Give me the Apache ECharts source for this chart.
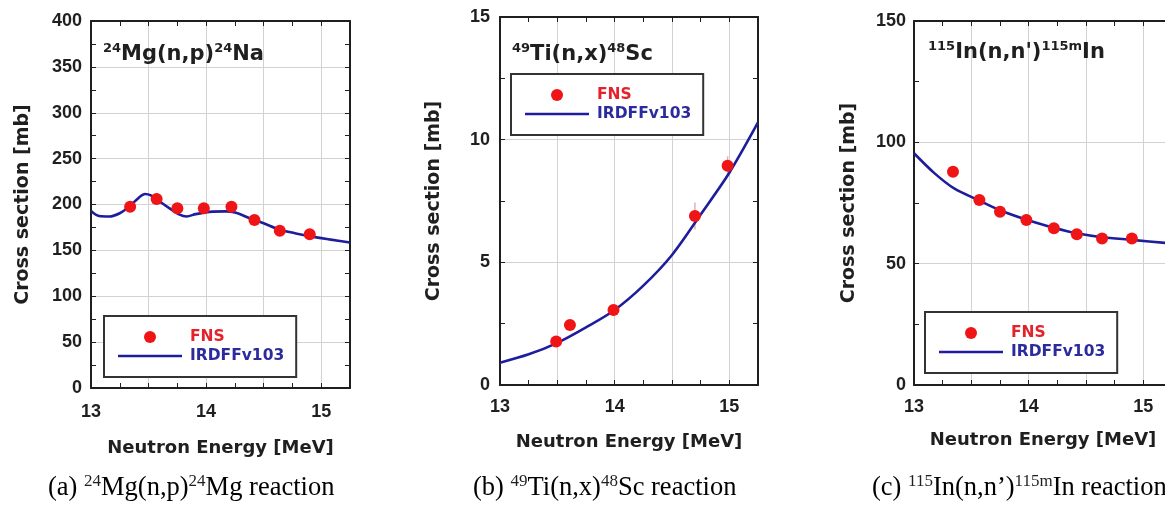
<!DOCTYPE html>
<html>
<head>
<meta charset="utf-8">
<script src="https://cdn.jsdelivr.net/npm/echarts@6/dist/echarts.min.js"></script>
<style>
  html, body { margin: 0; padding: 0; background: #fff; }
  #chart { width: 1165px; height: 514px; }
</style>
</head>
<body>
<div id="chart"></div>
<script>
// 24Mg(n,p)24Na — FNS measurements and IRDFF-v1.03 evaluation
const mgEnergy = [13.34, 13.57, 13.75, 13.98, 14.22, 14.42, 14.64, 14.90];
const mgFns = [197.5, 206, 196, 196, 197.5, 183, 171.5, 167.5];
const mgCurveEnergy = [13.00, 13.07, 13.16, 13.25, 13.33, 13.42, 13.47, 13.52, 13.59, 13.68, 13.77, 13.83,
                       13.91, 14.03, 14.17, 14.26, 14.38, 14.50, 14.64, 14.78, 14.90, 15.07, 15.25];
const mgCurve = [193, 187.5, 187, 190.5, 197.5, 208, 211.5, 210, 204, 196, 189, 187,
                 189.5, 192, 192.5, 191, 185, 179.5, 172.5, 168.5, 165.5, 162, 158.5];

// 49Ti(n,x)48Sc
const tiEnergy = [13.49, 13.61, 13.99, 14.70, 14.985];
const tiFns = [1.77, 2.45, 3.06, 6.89, 8.94];
const tiErr = [0.08, 0.10, 0.12, 0.55, 0.38];
const tiCurveEnergy = [13.00, 13.25, 13.50, 13.75, 14.00, 14.25, 14.50, 14.75, 15.00, 15.25];
const tiCurve = [0.91, 1.25, 1.72, 2.35, 3.06, 4.05, 5.30, 6.95, 8.65, 10.70];

// 115In(n,n')115mIn
const inEnergy = [13.34, 13.57, 13.75, 13.98, 14.22, 14.42, 14.64, 14.90];
const inFns = [87.9, 76.2, 71.4, 68.0, 64.6, 62.1, 60.4, 60.4];
const inCurveEnergy = [13.00, 13.18, 13.35, 13.57, 13.75, 14.00, 14.22, 14.42, 14.64, 14.90, 15.25];
const inCurve = [95.5, 87.2, 81.0, 76.0, 72.0, 67.8, 64.8, 62.5, 60.9, 59.8, 58.3];

// Axis scales
const energyMin = 13, energyMax = 15.25;
const yMaxes = [400, 15, 150];
const ySteps = [50, 5, 50];

const RED = '#ef1416';
const NAVY = '#1e1e9c';
const INK = '#1f1f1f';
const GRID_GRAY = '#d2d2d2';
const SANS_WIDE = 'DejaVu Sans';
const SANS = '"Liberation Sans", Arial, sans-serif';
const SERIF = '"Liberation Serif", "Times New Roman", serif';

const zip = (xs, ys) => xs.map((x, i) => [x, ys[i]]);

const panels = [
  { rect: { left: 91, top: 21, width: 259, height: 367 }, xLabelMargin: 15, yLabelMargin: 9,
    xNameGap: 51, yNameGap: 58, legendPos: { left: 104, top: 316 },
    points: zip(mgEnergy, mgFns), curve: zip(mgCurveEnergy, mgCurve), errors: null },
  { rect: { left: 500, top: 17, width: 258, height: 368 }, xLabelMargin: 13, yLabelMargin: 10,
    xNameGap: 48, yNameGap: 56, legendPos: { left: 511, top: 74 },
    points: zip(tiEnergy, tiFns), curve: zip(tiCurveEnergy, tiCurve), errors: tiErr },
  { rect: { left: 914, top: 21, width: 258, height: 364 }, xLabelMargin: 13, yLabelMargin: 8,
    xNameGap: 46, yNameGap: 55, legendPos: { left: 925, top: 312 },
    points: zip(inEnergy, inFns), curve: zip(inCurveEnergy, inCurve), errors: null }
];

const grids = [], xAxes = [], yAxes = [], series = [], legends = [];
const lineStyleFrame = { color: INK, width: 2 };
const tickInside = { show: true, inside: true, length: 5, lineStyle: { color: INK, width: 1 } };

panels.forEach((p, i) => {
  grids.push(Object.assign({ show: false, outerBoundsMode: 'none', containLabel: false }, p.rect));

  const xBase = { type: 'value', gridIndex: i, min: energyMin, max: energyMax };
  // bottom axis: ticks every 0.25, labels at whole MeV
  xAxes.push(Object.assign({}, xBase, {
    position: 'bottom', interval: 0.25,
    axisLine: { show: true, onZero: false, lineStyle: lineStyleFrame },
    axisTick: tickInside,
    axisLabel: {
      show: true, margin: p.xLabelMargin, color: INK, fontFamily: SANS, fontWeight: 'bold', fontSize: 18,
      formatter: v => Math.abs(v - Math.round(v)) < 1e-6 ? String(Math.round(v)) : ''
    },
    splitLine: { show: false },
    name: 'Neutron Energy [MeV]', nameLocation: 'middle', nameGap: p.xNameGap,
    nameTextStyle: { fontFamily: SANS_WIDE, fontWeight: 'bold', fontSize: 18, color: INK }
  }));
  // top frame edge with mirrored ticks
  xAxes.push(Object.assign({}, xBase, {
    position: 'top', interval: 0.25,
    axisLine: { show: true, onZero: false, lineStyle: lineStyleFrame },
    axisTick: tickInside, axisLabel: { show: false }, splitLine: { show: false }
  }));
  // vertical grid lines every 0.5 MeV
  xAxes.push(Object.assign({}, xBase, {
    position: 'bottom', interval: 0.5,
    axisLine: { show: false }, axisTick: { show: false }, axisLabel: { show: false },
    splitLine: { show: true, lineStyle: { color: GRID_GRAY, width: 1 } }
  }));

  const yBase = { type: 'value', gridIndex: i, min: 0, max: yMaxes[i], interval: ySteps[i] };
  yAxes.push(Object.assign({}, yBase, {
    position: 'left',
    axisLine: { show: true, onZero: false, lineStyle: lineStyleFrame },
    axisTick: tickInside,
    minorTick: { show: true, splitNumber: 2, length: 5, lineStyle: { color: INK, width: 1 } },
    axisLabel: { show: true, margin: p.yLabelMargin, color: INK, fontFamily: SANS, fontWeight: 'bold', fontSize: 18 },
    splitLine: { show: true, lineStyle: { color: GRID_GRAY, width: 1 } },
    name: 'Cross section [mb]', nameLocation: 'middle', nameGap: p.yNameGap,
    nameTextStyle: { fontFamily: SANS_WIDE, fontWeight: 'bold', fontSize: 19, color: INK }
  }));
  yAxes.push(Object.assign({}, yBase, {
    position: 'right',
    axisLine: { show: true, onZero: false, lineStyle: lineStyleFrame },
    axisTick: tickInside,
    minorTick: { show: true, splitNumber: 2, length: 5, lineStyle: { color: INK, width: 1 } },
    axisLabel: { show: false }, splitLine: { show: false }
  }));

  const xIdx = i * 3, yIdx = i * 2;
  series.push({
    name: 'IRDFFv103', type: 'line', xAxisIndex: xIdx, yAxisIndex: yIdx,
    data: p.curve, smooth: 0.3, symbol: 'none', showSymbol: false,
    lineStyle: { color: NAVY, width: 2.6 }, itemStyle: { color: NAVY }, z: 3, silent: true
  });
  if (p.errors) {
    const errData = p.points.map((pt, k) => [pt[0], pt[1], p.errors[k]]);
    series.push({
      name: 'FNS error', type: 'custom', xAxisIndex: xIdx, yAxisIndex: yIdx, data: errData, z: 3, silent: true,
      renderItem: (params, api) => {
        const x = api.value(0), y = api.value(1), e = api.value(2);
        const hi = api.coord([x, y + e]), lo = api.coord([x, y - e]);
        return { type: 'line', shape: { x1: hi[0], y1: hi[1], x2: lo[0], y2: lo[1] },
                 style: { stroke: 'rgba(225,70,70,0.45)', lineWidth: 1.5 } };
      }
    });
  }
  series.push({
    name: 'FNS', type: 'scatter', xAxisIndex: xIdx, yAxisIndex: yIdx,
    data: p.points, symbol: 'circle', symbolSize: 12,
    itemStyle: { color: RED, opacity: 1 }, z: 4, silent: true
  });

  legends.push({
    show: true, orient: 'vertical', left: p.legendPos.left, top: p.legendPos.top,
    itemWidth: 64, itemHeight: 12, itemGap: 1, padding: [12, 12, 12, 14],
    borderColor: '#333', borderWidth: 2, borderRadius: 0, backgroundColor: '#fff',
    selectedMode: false, z: 6,
    textStyle: { fontFamily: SANS_WIDE, fontWeight: 'bold', fontSize: 15.5, lineHeight: 18, padding: [0, 0, 0, 3] },
    data: [
      { name: 'FNS', icon: 'circle', textStyle: { color: '#e3222b' } },
      { name: 'IRDFFv103', icon: 'path://M0,0L64,0L64,2.6L0,2.6Z', textStyle: { color: '#2b2b9e' } }
    ]
  });
});

// Reaction labels inside each plot, and panel captions underneath
const supTop = (size, family, weight) => ({ fontSize: size, fontFamily: family, fontWeight: weight, fill: INK, verticalAlign: 'top', lineHeight: size + 1 });
const reactionRich = {
  m: { fontSize: 21, fontFamily: SANS_WIDE, fontWeight: 'bold', fill: INK, lineHeight: 26 },
  s: supTop(13, SANS_WIDE, 'bold')
};
const captionRich = {
  m: { fontSize: 26.5, fontFamily: SERIF, fontWeight: 'normal', fill: '#000', lineHeight: 31 },
  s: supTop(17, SERIF, 'normal')
};
const reactionLabels = [
  { left: 103, top: 42, text: '{s|24}{m|Mg(n,p)}{s|24}{m|Na}' },
  { left: 512, top: 42, text: '{s|49}{m|Ti(n,x)}{s|48}{m|Sc}' },
  { left: 928, top: 40, text: "{s|115}{m|In(n,n')}{s|115m}{m|In}" }
];
const captions = [
  { left: 48, top: 473, text: '{m|(a) }{s|24}{m|Mg(n,p)}{s|24}{m|Mg reaction}' },
  { left: 473, top: 473, text: '{m|(b) }{s|49}{m|Ti(n,x)}{s|48}{m|Sc reaction}' },
  { left: 872, top: 473, text: '{m|(c) }{s|115}{m|In(n,n\u2019)}{s|115m}{m|In reaction}' }
];
const graphics = [];
reactionLabels.forEach(t => graphics.push({
  type: 'text', left: t.left, top: t.top, z: 10, silent: true,
  style: { text: t.text, rich: reactionRich }
}));
captions.forEach(t => graphics.push({
  type: 'text', left: t.left, top: t.top, z: 10, silent: true,
  style: { text: t.text, rich: captionRich }
}));

const chart = echarts.init(document.getElementById('chart'), null, { renderer: 'canvas' });
chart.setOption({
  backgroundColor: '#fff',
  animation: false,
  grid: grids,
  xAxis: xAxes,
  yAxis: yAxes,
  legend: legends,
  series: series,
  graphic: graphics
});
</script>
</body>
</html>
